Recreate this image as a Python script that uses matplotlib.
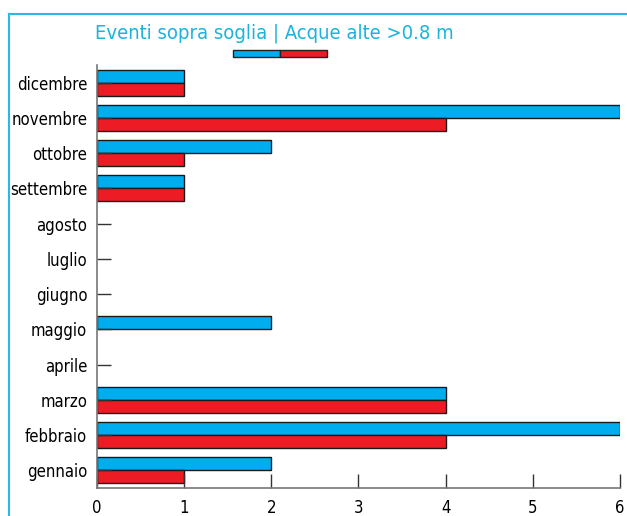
import numpy as np
import matplotlib
matplotlib.use("Agg")
import matplotlib.pyplot as plt
from matplotlib.patches import Rectangle
from matplotlib.lines import Line2D

plt.rcParams['font.family'] = ['DejaVu Sans']
plt.rcParams['font.stretch'] = 'condensed'

mesi = ['gennaio', 'febbraio', 'marzo', 'aprile', 'maggio', 'giugno',
        'luglio', 'agosto', 'settembre', 'ottobre', 'novembre', 'dicembre']
serie_blu = [2, 6, 4, 0, 2, 0, 0, 0, 1, 2, 6, 1]
serie_rossa = [1, 4, 4, 0, 0, 0, 0, 0, 1, 1, 4, 1]
xticks = [0, 1, 2, 3, 4, 5, 6]

blu = '#00aeef'
rosso = '#ed1c24'
ciano = '#1ab4dc'

fig = plt.figure(figsize=(6.27, 5.16), dpi=100)
ax = fig.add_axes([97/627, 28/516, 523/627, 423/516])

y = np.arange(len(mesi))
b = np.array(serie_blu)
r = np.array(serie_rossa)
h = 0.37
# le barre a zero non si disegnano
ax.barh(y[b > 0] + 0.185, b[b > 0], height=h, color=blu, edgecolor='#1a1a1a', linewidth=1)
ax.barh(y[r > 0] - 0.185, r[r > 0], height=h, color=rosso, edgecolor='#1a1a1a', linewidth=1)

ax.set_xlim(0, 6)
ax.set_ylim(-0.5, 11.5)
ax.set_yticks(y)
ax.set_yticklabels(mesi, fontsize=12)
ax.set_xticks(xticks)
ax.set_xticklabels([str(v) for v in xticks], fontsize=12)
ax.tick_params(axis='both', direction='in', length=10, width=1, color='#333333', pad=7)
ax.tick_params(axis='x', pad=8)
for s in ['top', 'right']:
    ax.spines[s].set_visible(False)
for s in ['left', 'bottom']:
    ax.spines[s].set_color('#777777')
    ax.spines[s].set_linewidth(1.2)

# titolo
fig.text(95/627, 1 - 33/516, 'Eventi sopra soglia | Acque alte >0.8 m',
         color=ciano, fontsize=14.5, va='center', ha='left')

# legenda senza etichette
fig.patches.append(Rectangle((233/627, 1 - 57/516), 47/627, 7/516,
                             transform=fig.transFigure, facecolor=blu,
                             edgecolor='#222222', linewidth=1))
fig.patches.append(Rectangle((280/627, 1 - 57/516), 47/627, 7/516,
                             transform=fig.transFigure, facecolor=rosso,
                             edgecolor='#222222', linewidth=1))

# cornice
fig.lines.append(Line2D([9/627, 1], [1 - 14/516, 1 - 14/516],
                        transform=fig.transFigure, color='#29b8e8', linewidth=1.5))
fig.lines.append(Line2D([9/627, 9/627], [0, 1 - 14/516],
                        transform=fig.transFigure, color='#29b8e8', linewidth=1.5))

fig.savefig('out.png', dpi=100)
